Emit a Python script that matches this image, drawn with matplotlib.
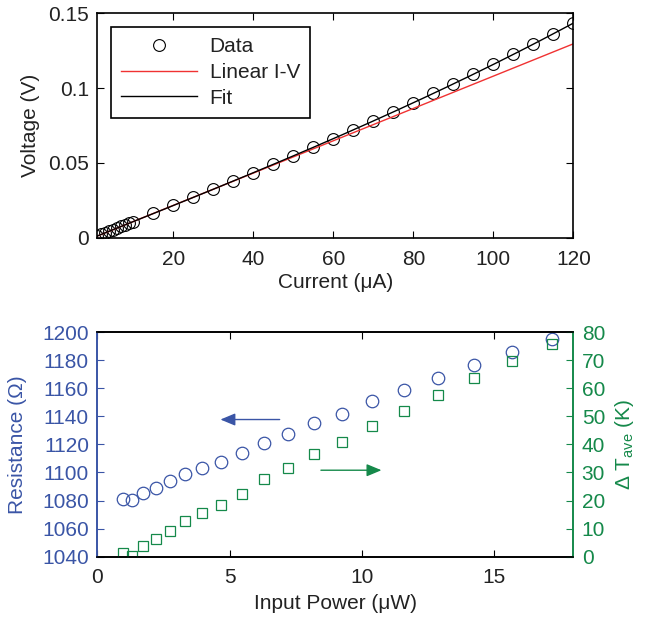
import numpy as np
import matplotlib
matplotlib.use('Agg')
import matplotlib.pyplot as plt

# current sweep (uA) and measured voltage (V)
current = [1, 2, 3, 4, 5, 6, 7, 8, 9, 10, 15, 20, 25, 30, 35, 40, 45, 50, 55,
           60, 65, 70, 75, 80, 85, 90, 95, 100, 105, 110, 115, 120]
voltage = [0.0011, 0.0022, 0.0032, 0.0043, 0.0054, 0.0065, 0.0076, 0.0087,
           0.0097, 0.0108, 0.0162, 0.0216, 0.0270, 0.0324, 0.0378, 0.0434,
           0.0490, 0.0547, 0.0604, 0.0662, 0.0720, 0.0780, 0.0841, 0.0902,
           0.0965, 0.1028, 0.1093, 0.1159, 0.1225, 0.1294, 0.1363, 0.1434]

# linear I-V (low-current resistance)
lin_current = [0, 120]
lin_voltage = [0, 0.1296]

# resistance and temperature rise vs input power
power = [0.97, 1.32, 1.74, 2.21, 2.73, 3.32, 3.97, 4.68, 5.46, 6.31, 7.22,
         8.20, 9.25, 10.39, 11.59, 12.87, 14.23, 15.68, 17.21]
resistance = [1081.2, 1080.3, 1085.7, 1089.1, 1093.6, 1099.0, 1103.3, 1107.6,
              1113.7, 1121.3, 1127.5, 1135.5, 1141.9, 1150.7, 1158.5, 1167.1,
              1176.3, 1185.5, 1195.0]
delta_t = [1.2, 0.2, 3.8, 6.2, 9.0, 12.6, 15.4, 18.5, 22.5, 27.5, 31.5, 36.7,
           41.0, 46.7, 51.9, 57.6, 63.6, 69.7, 75.9]

blue = '#3a55a6'
green = '#15894a'
dark = '#222222'

plt.rcParams['font.family'] = ['Liberation Sans', 'DejaVu Sans']
plt.rcParams['mathtext.fontset'] = 'custom'
plt.rcParams['mathtext.rm'] = 'Liberation Sans'
plt.rcParams['mathtext.it'] = 'Liberation Sans:italic'
plt.rcParams['font.size'] = 15
plt.rcParams['text.color'] = dark
plt.rcParams['axes.labelcolor'] = dark

fig = plt.figure(figsize=(6.51, 6.19), dpi=100)

# ---- top: I-V curve
ax1 = fig.add_axes([0.1495, 0.616, 0.7312, 0.3625])
coef = np.polyfit(current, voltage, 3)
fit_i = np.linspace(1, 120, 200)
ax1.plot(current, voltage, 'o', mfc='none', mec='black', ms=8.5, mew=0.8,
         label='Data')
ax1.plot(lin_current, lin_voltage, color='#f03232', lw=1.0, label='Linear I-V')
ax1.plot(fit_i, np.polyval(coef, fit_i), color='black', lw=1.0, label='Fit')
ax1.set_xlim(1, 120)
ax1.set_ylim(0, 0.15)
ax1.set_xticks([20, 40, 60, 80, 100, 120])
ax1.set_yticks([0, 0.05, 0.1, 0.15])
ax1.set_yticklabels(['0', '0.05', '0.1', '0.15'])
ax1.set_xlabel('Current (\u03bcA)', labelpad=3)
ax1.set_ylabel('Voltage (V)', labelpad=6)
ax1.tick_params(direction='in', top=True, right=True, length=5, width=0.8,
                labelcolor=dark)
ax1.tick_params(axis='x', pad=9)
ax1.tick_params(axis='y', pad=6)
for s in ax1.spines.values():
    s.set_linewidth(1.2)
leg = ax1.legend(loc='upper left', bbox_to_anchor=(0.028, 0.94), fancybox=False,
                 edgecolor='black', handlelength=3.65, labelspacing=0.32,
                 borderpad=0.5, borderaxespad=0.0, handletextpad=0.6,
                 framealpha=1)
leg.get_frame().set_linewidth(1.2)

# ---- bottom: resistance and temperature rise
ax2 = fig.add_axes([0.1495, 0.1006, 0.7312, 0.363])
ax3 = ax2.twinx()
ax2.plot(power, resistance, 'o', mfc='none', mec=blue, ms=9, mew=0.9)
ax3.plot(power, delta_t, 's', mfc='none', mec=green, ms=7, mew=0.9)
ax2.set_xlim(0, 18)
ax2.set_ylim(1040, 1200)
ax3.set_ylim(0, 80)
ax2.set_xticks([0, 5, 10, 15])
ax2.set_yticks(np.arange(1040, 1201, 20))
ax3.set_yticks(np.arange(0, 81, 10))
ax2.set_xlabel('Input Power (\u03bcW)', labelpad=5)
ax2.set_ylabel('Resistance (\u03a9)', color=blue, labelpad=11)
ax3.set_ylabel(r'$\Delta$ T$_{\rm ave}$ (K)', color=green, labelpad=6)
ax2.tick_params(axis='x', direction='in', top=True, length=5, width=0.8,
                pad=8, labelcolor=dark)
ax2.tick_params(axis='y', direction='in', colors=blue, length=5, width=0.8,
                pad=6)
ax3.tick_params(axis='y', direction='in', colors=green, length=5, width=0.8,
                pad=6)
for ax in (ax2, ax3):
    ax.spines['top'].set_linewidth(1.2)
    ax.spines['bottom'].set_linewidth(1.2)
    ax.spines['left'].set_color(blue)
    ax.spines['right'].set_color(green)
    ax.spines['left'].set_linewidth(1.2)
    ax.spines['right'].set_linewidth(1.2)

ax2.annotate('', xy=(4.55, 1137.7), xytext=(7.0, 1137.7),
             arrowprops=dict(arrowstyle='-|>,head_length=0.6,head_width=0.25',
                             color=blue, lw=1.0, mutation_scale=15))
ax3.annotate('', xy=(10.85, 30.8), xytext=(8.35, 30.8),
             arrowprops=dict(arrowstyle='-|>,head_length=0.6,head_width=0.25',
                             color=green, lw=1.0, mutation_scale=15))

fig.savefig('out.png', dpi=100)
